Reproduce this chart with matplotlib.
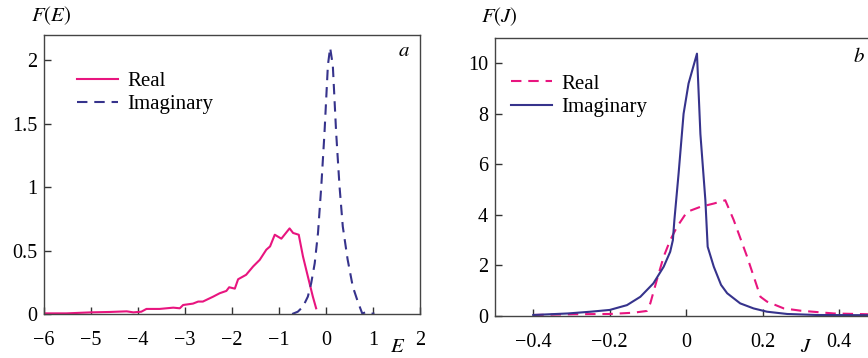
import matplotlib
matplotlib.use("Agg")
import matplotlib.pyplot as plt

plt.rcParams['font.family'] = 'serif'
plt.rcParams['font.serif'] = ['Liberation Serif', 'DejaVu Serif']
plt.rcParams['mathtext.fontset'] = 'stix'

PINK = '#e8157f'
BLUE = '#36338c'

# panel a: F(E)
e_real = [-6.0, -5.52, -4.99, -4.6, -4.24, -4.1, -3.93, -3.82, -3.54, -3.25, -3.11, -3.04,
          -2.83, -2.72, -2.62, -2.40, -2.26, -2.12, -2.06, -1.94, -1.87, -1.70, -1.55, -1.41,
          -1.27, -1.19, -1.09, -0.95, -0.775, -0.70, -0.58, -0.49, -0.386, -0.28, -0.21]
f_real = [0.005, 0.005, 0.013, 0.016, 0.021, 0.013, 0.018, 0.04, 0.04, 0.05, 0.045, 0.071,
          0.082, 0.098, 0.098, 0.137, 0.164, 0.182, 0.211, 0.2, 0.274, 0.309, 0.375, 0.427,
          0.507, 0.533, 0.625, 0.594, 0.675, 0.639, 0.625, 0.454, 0.296, 0.137, 0.045]

e_imag = [-0.72, -0.60, -0.49, -0.386, -0.315, -0.24, -0.17, -0.10, -0.032, 0.04, 0.088,
          0.145, 0.216, 0.287, 0.357, 0.46, 0.57, 0.676, 0.77, 0.85, 0.92, 1.03]
f_imag = [0.0, 0.018, 0.058, 0.137, 0.243, 0.40, 0.64, 1.01, 1.43, 1.96, 2.10,
          1.96, 1.43, 1.01, 0.69, 0.43, 0.216, 0.098, 0.005, 0.013, 0.0, 0.005]

# panel b: F(J)
j_imag = [-0.40, -0.31, -0.25, -0.20, -0.155, -0.12, -0.086, -0.059, -0.042, -0.035, -0.031,
          -0.02, -0.007, 0.006, 0.028, 0.037, 0.05, 0.056, 0.072, 0.091, 0.107, 0.141,
          0.176, 0.211, 0.264, 0.342, 0.5]
fj_imag = [0.04, 0.1, 0.17, 0.24, 0.43, 0.76, 1.29, 1.95, 2.54, 3.0, 3.8,
           5.64, 8.0, 9.2, 10.38, 7.2, 4.58, 2.74, 1.95, 1.23, 0.9, 0.5,
           0.30, 0.17, 0.08, 0.04, 0.03]

j_real = [-0.40, -0.295, -0.20, -0.138, -0.103, -0.094, -0.077, -0.059, -0.042, -0.024,
          0.002, 0.037, 0.072, 0.102, 0.124, 0.159, 0.194, 0.211, 0.255, 0.299, 0.386, 0.5]
fj_real = [0.04, 0.07, 0.08, 0.13, 0.2, 0.5, 1.42, 2.35, 3.0, 3.53,
           4.12, 4.32, 4.45, 4.58, 3.8, 2.35, 0.76, 0.57, 0.3, 0.21, 0.1, 0.06]

fig = plt.figure(figsize=(8.68, 3.58), dpi=100)
ax1 = fig.add_axes([44 / 868, 44 / 358, 376 / 868, 279 / 358])
ax2 = fig.add_axes([495 / 868, 42 / 358, 382.5 / 868, 278 / 358])

dash = (0, (5, 3.3))

ax1.plot(e_real, f_real, color=PINK, lw=1.5, label='Real')
ax1.plot(e_imag, f_imag, color=BLUE, lw=1.5, linestyle=dash, label='Imaginary')
ax1.set_xlim(-6, 2)
ax1.set_ylim(0, 2.2)
ax1.set_xticks([-6, -5, -4, -3, -2, -1, 0, 1, 2])
ax1.set_xticklabels(['\u22126', '\u22125', '\u22124', '\u22123', '\u22122', '\u22121', '0', '1', '2'])
ax1.set_yticks([0, 0.5, 1, 1.5, 2])
ax1.set_yticklabels(['0', '0.5', '1', '1.5', '2'])

ax2.plot(j_real, fj_real, color=PINK, lw=1.5, linestyle=dash, label='Real')
ax2.plot(j_imag, fj_imag, color=BLUE, lw=1.5, label='Imaginary')
ax2.set_xlim(-0.5, 0.5)
ax2.set_ylim(0, 11)
ax2.set_xticks([-0.4, -0.2, 0, 0.2, 0.4])
ax2.set_xticklabels(['\u22120.4', '\u22120.2', '0', '0.2', '0.4'])
ax2.set_yticks([0, 2, 4, 6, 8, 10])

for ax, lx in ((ax1, 0.088), (ax2, 0.042)):
    ax.tick_params(direction='in', length=5, width=1, colors='#333333', labelcolor='black',
                   labelsize=14.5, top=False, right=False)
    ax.tick_params(axis='x', pad=12)
    ax.tick_params(axis='y', pad=5)
    for s in ax.spines.values():
        s.set_color('#444444')
        s.set_linewidth(1)
    ax.legend(loc='upper left', bbox_to_anchor=(lx, 0.87), frameon=False, fontsize=15,
              handlelength=1.95, handletextpad=0.45, labelspacing=0.17, borderaxespad=0,
              borderpad=0)

fig.text(51 / 868, 1 - 16 / 358, '$F(E)$', fontsize=15, ha='center', va='center')
fig.text(398 / 868, 1 - 348 / 358, '$E$', fontsize=15, ha='center', va='center')
fig.text(404 / 868, 1 - 51 / 358, '$a$', fontsize=15, ha='center', va='center')

fig.text(499 / 868, 1 - 17 / 358, '$F(J)$', fontsize=15, ha='center', va='center')
fig.text(806 / 868, 1 - 347 / 358, '$J$', fontsize=15, ha='center', va='center')
fig.text(859 / 868, 1 - 57 / 358, '$b$', fontsize=15, ha='center', va='center')

fig.savefig('out.png', dpi=100)
